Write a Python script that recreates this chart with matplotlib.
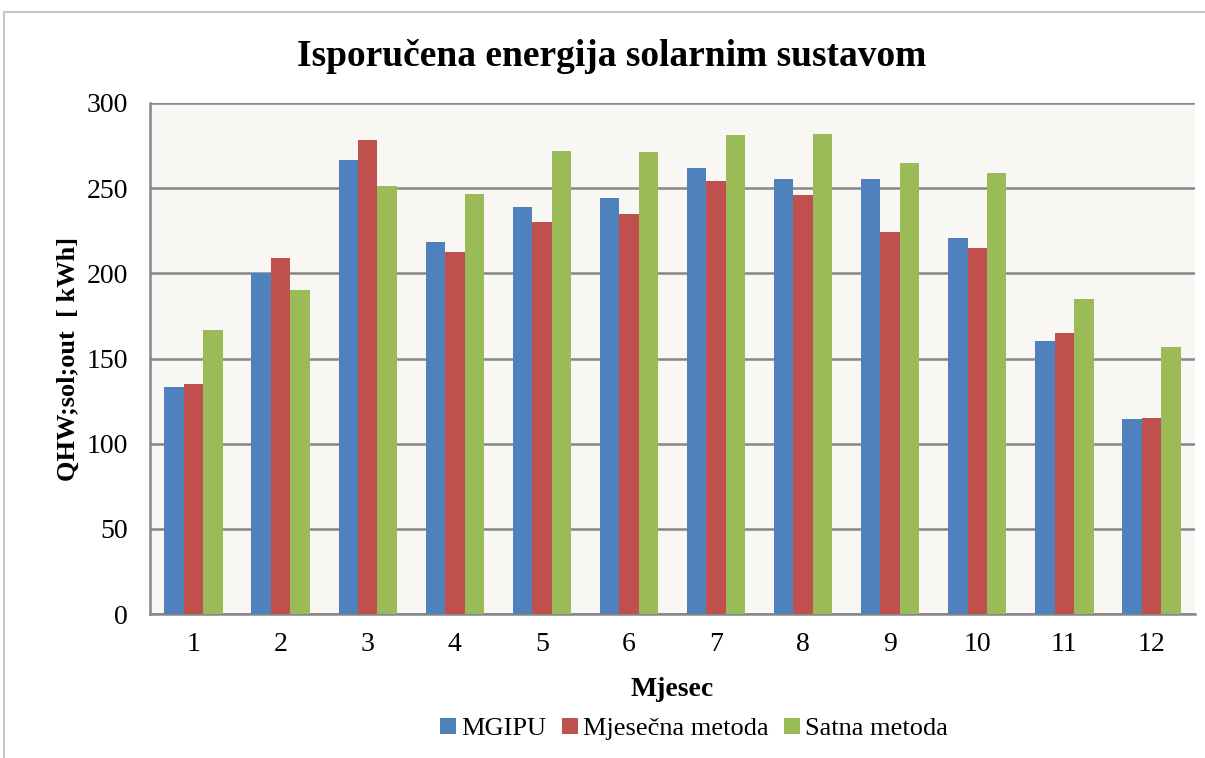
import numpy as np
import matplotlib.pyplot as plt
from matplotlib.patches import Rectangle

# Data (kWh per month).
months = ['1', '2', '3', '4', '5', '6', '7', '8', '9', '10', '11', '12']
mgipu = [133, 200, 266.5, 218.5, 239, 244, 262, 255.5, 255.5, 221, 160, 114.5]
mjesecna = [135, 209, 278.5, 212.5, 230, 235, 254, 246, 224.5, 215, 165, 115]
satna = [167, 190.5, 251, 246.5, 272, 271.5, 281, 282, 265, 259, 185, 156.5]

series = [('MGIPU', mgipu, '#4F81BD'),
          ('Mjesečna metoda', mjesecna, '#C0504D'),
          ('Satna metoda', satna, '#9BBB59')]

plt.rcParams['font.family'] = ['Liberation Serif', 'DejaVu Serif']

fig = plt.figure(figsize=(12.05, 7.58), dpi=100)
# Light gray outer chart border.
fig.patches.append(Rectangle((4 / 1205, -0.01), 1.2, 1 - 12 / 758 + 0.01,
                             transform=fig.transFigure, fill=False,
                             edgecolor='#C8C8C8', linewidth=1.5))

ax = fig.add_axes([150 / 1205, 1 - 614 / 758, 1045 / 1205, 511 / 758])
ax.set_facecolor('#F8F7F3')

x = np.arange(len(months))
w = 0.223
for i, (name, vals, col) in enumerate(series):
    ax.bar(x + (i - 1) * w, vals, w, color=col, label=name, zorder=3,
           edgecolor='none')

ax.set_xlim(-0.5, len(months) - 0.5)
ax.set_ylim(0, 300)
ax.set_yticks(np.arange(0, 301, 50))
ax.set_xticks(x)
ax.set_xticklabels(months)
ax.yaxis.grid(True, color='#868686', linewidth=1.8, zorder=1)
ax.tick_params(axis='both', length=0, labelsize=20)
ax.tick_params(axis='x', pad=13)
ax.tick_params(axis='y', pad=16)
for side in ['top', 'right']:
    ax.spines[side].set_visible(False)
for side in ['left', 'bottom']:
    ax.spines[side].set_color('#868686')
    ax.spines[side].set_linewidth(1.8)

ax.set_xlabel('Mjesec', fontsize=20, fontweight='bold', labelpad=14)
ax.set_ylabel('QHW;sol;out  [ kWh]', fontsize=19, fontweight='bold',
              labelpad=5)
fig.text(612 / 1205, 1 - 57 / 758, 'Isporučena energija solarnim sustavom',
         ha='center', va='center', fontsize=27, fontweight='bold')

fig.legend(loc='center', bbox_to_anchor=(694 / 1205, 1 - 729 / 758), ncol=3,
           frameon=False, fontsize=19, handlelength=0.6, handleheight=0.6,
           handletextpad=0.2, columnspacing=0.6)

fig.savefig('out.png', dpi=100)
